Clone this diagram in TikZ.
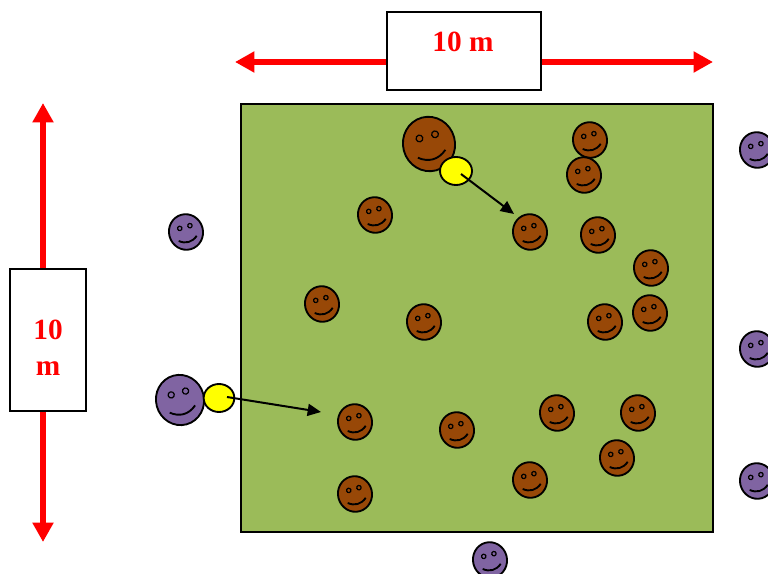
\documentclass[tikz,border=0pt]{standalone}
\usepackage{fontspec}
\setmainfont{Liberation Serif}
\usetikzlibrary{shapes.geometric,arrows.meta}
\definecolor{field}{HTML}{9BBB59}
\definecolor{brownface}{HTML}{984807}
\definecolor{purpleface}{HTML}{8064A2}
\definecolor{ballyellow}{HTML}{FFFF00}
\tikzset{
  face/.pic={
    \begin{scope}[rotate=15]
      \path[draw, line width=1.4pt, pic actions] (0,0) ellipse [x radius=1, y radius=1.05];
      \draw[line width=0.9pt] (-0.3,-0.3) circle [radius=0.13];
      \draw[line width=0.9pt] ( 0.32,-0.3) circle [radius=0.13];
      \draw[line width=1.4pt] (-0.55,0.4) .. controls (-0.2,0.68) and (0.2,0.68) .. (0.55,0.38);
    \end{scope}
  },
  brown/.style={fill=brownface},
  purple/.style={fill=purpleface},
  dimbox/.style={draw, line width=1.4pt, fill=white, inner sep=0pt},
  dimtext/.style={text=red, inner sep=0pt, align=center,
    font=\fontsize{22}{27}\selectfont\bfseries},
  dimarrow/.style={draw=red, line width=4.4pt, -{Triangle[length=14.5pt,width=15pt]}},
  ball/.style={ellipse, draw, line width=1.4pt, fill=ballyellow, inner sep=0pt},
  throw/.style={draw, line width=1.5pt, -{Triangle[length=10pt,width=9pt]}}
}
\begin{document}
\begin{tikzpicture}[x=0.75pt, y=-0.75pt]
\useasboundingbox (0,0) rectangle (768,574);

% playing field
\draw[line width=1.4pt, fill=field] (241,104) rectangle (713,532);

% width dimension
\node[dimbox, minimum width=115.5pt, minimum height=58.5pt] (wbox) at (464,51) {};
\node[dimtext] (wlabel) at (463,42) {10 m};
\coordinate (wl) at (235,62);
\coordinate (wr) at (713,62);
\draw[dimarrow] (wbox.west |- wl) -- (wl);
\draw[dimarrow] (wbox.east |- wr) -- (wr);

% height dimension
\node[dimbox, minimum width=57pt, minimum height=107pt] (hbox) at (48,340) {};
\node[dimtext] (hlabel) at (48,348) {10\\m};
\coordinate (ht) at (43,103);
\coordinate (hb) at (43,542);
\draw[dimarrow] (hbox.north -| ht) -- (ht);
\draw[dimarrow] (hbox.south -| hb) -- (hb);

% players on the field
\pic[brown, scale=26] at (429,144) {face};
\foreach \px/\py in {590/140, 584/175, 375/215, 530/232, 598/235, 651/268,
                     322/304, 424/322, 605/322, 650/313, 355/422, 457/430,
                     557/413, 638/413, 617/458, 530/480, 355/494}
  \pic[brown, scale=17] at (\px,\py) {face};

% players outside the field
\pic[purple, scale=24] at (180,400) {face};
\foreach \px/\py in {186/232, 757/150, 757/349, 757/481, 490/560}
  \pic[purple, scale=17] at (\px,\py) {face};

% balls and throws
\node[ball, minimum width=24pt, minimum height=21pt] (ball1) at (456,171) {};
\node[ball, minimum width=23pt, minimum height=21pt] (ball2) at (219,398) {};
\coordinate (t1) at (514,214);
\coordinate (t2) at (321,412);
\path (ball1.center) ++(5,3) coordinate (s1);
\path (ball2.center) ++(8,-1) coordinate (s2);
\draw[throw] (s1) -- (t1);
\draw[throw] (s2) -- (t2);
\end{tikzpicture}
\end{document}
